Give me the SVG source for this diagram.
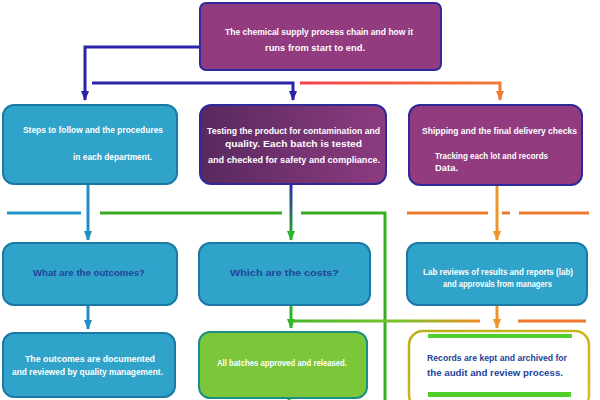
<svg xmlns="http://www.w3.org/2000/svg" width="600" height="400" viewBox="0 0 600 400">
  <style>
    .lbl { font-family: "Liberation Sans", Arial, sans-serif; font-size: 9px; font-weight: bold; fill: #ffffff; }
    .dark { fill: #22439a; }
    .teal { fill: #2fa3c9; stroke: #1b7aa3; stroke-width: 2; }
    .plum { fill: #923b7f; stroke: #2e2a9a; stroke-width: 2; }
    .wire { fill: none; stroke-width: 3; }
  </style>
  <defs>
    <linearGradient id="plumShade" x1="0" y1="0" x2="1" y2="0">
      <stop offset="0" stop-color="#58295f"/>
      <stop offset="1" stop-color="#8d3b80"/>
    </linearGradient>
    <linearGradient id="redOrange" x1="300" y1="0" x2="500" y2="0" gradientUnits="userSpaceOnUse">
      <stop offset="0" stop-color="#f2424e"/>
      <stop offset="1" stop-color="#f07d35"/>
    </linearGradient>
    <linearGradient id="blueGreen" x1="0" y1="185" x2="0" y2="240" gradientUnits="userSpaceOnUse">
      <stop offset="0" stop-color="#2a2aa8"/>
      <stop offset="1" stop-color="#2cb52a"/>
    </linearGradient>
    <linearGradient id="greenOrange" x1="291" y1="0" x2="480" y2="0" gradientUnits="userSpaceOnUse">
      <stop offset="0" stop-color="#47b82a"/>
      <stop offset="0.6" stop-color="#7cc22a"/>
      <stop offset="1" stop-color="#f08a2a"/>
    </linearGradient>
    <linearGradient id="goldRim" x1="0" y1="0" x2="1" y2="1">
      <stop offset="0" stop-color="#b8b018"/>
      <stop offset="1" stop-color="#e0b820"/>
    </linearGradient>
    <marker id="tipBlue" viewBox="0 0 10 8" refX="9" refY="4" markerWidth="10" markerHeight="8" markerUnits="userSpaceOnUse" orient="auto">
      <path d="M0,0 L10,4 L0,8 z" fill="#2a23a8"/>
    </marker>
    <marker id="tipOrange" viewBox="0 0 10 8" refX="9" refY="4" markerWidth="10" markerHeight="8" markerUnits="userSpaceOnUse" orient="auto">
      <path d="M0,0 L10,4 L0,8 z" fill="#f07a35"/>
    </marker>
    <marker id="tipTeal" viewBox="0 0 10 8" refX="9" refY="4" markerWidth="10" markerHeight="8" markerUnits="userSpaceOnUse" orient="auto">
      <path d="M0,0 L10,4 L0,8 z" fill="#1e8fc4"/>
    </marker>
    <marker id="tipGreen" viewBox="0 0 10 8" refX="9" refY="4" markerWidth="10" markerHeight="8" markerUnits="userSpaceOnUse" orient="auto">
      <path d="M0,0 L10,4 L0,8 z" fill="#2cb52a"/>
    </marker>
    <marker id="tipAmber" viewBox="0 0 10 8" refX="9" refY="4" markerWidth="10" markerHeight="8" markerUnits="userSpaceOnUse" orient="auto">
      <path d="M0,0 L10,4 L0,8 z" fill="#f0952a"/>
    </marker>
  </defs>

  <rect width="600" height="400" fill="#ffffff"/>

  <!-- connectors -->
  <g id="connectors">
    <path class="wire" d="M200,47 H85 V100" stroke="#2a23a8" marker-end="url(#tipBlue)"/>
    <path class="wire" d="M92,83 H293 V100" stroke="#2a23a8" marker-end="url(#tipBlue)"/>
    <path class="wire" d="M300,83 H500 V100" stroke="url(#redOrange)" marker-end="url(#tipOrange)"/>

    <path class="wire" d="M88,185 V240" stroke="#1e8fc4" marker-end="url(#tipTeal)"/>
    <path class="wire" d="M291,185 V240" stroke="url(#blueGreen)" marker-end="url(#tipGreen)"/>
    <path class="wire" d="M497,185 V240" stroke="#f0952a" marker-end="url(#tipAmber)"/>

    <path class="wire" d="M7,213 H81" stroke="#1e9ac8"/>
    <path class="wire" d="M100,213 H282" stroke="#3aab25"/>
    <path class="wire" d="M301,213 H385 V400" stroke="#3aab25"/>
    <path class="wire" d="M407,213 H488 M502,213 H510 M519,213 H589" stroke="#f0782e"/>

    <path class="wire" d="M88,305 V329" stroke="#1e8fc4" marker-end="url(#tipTeal)"/>
    <path class="wire" d="M291,305 V328" stroke="#2cb52a" marker-end="url(#tipGreen)"/>
    <path class="wire" d="M291,321 H480" stroke="url(#greenOrange)"/>
    <path class="wire" d="M518,321 H586" stroke="#f0782e"/>
    <path class="wire" d="M497,305 V328" stroke="#f0952a" marker-end="url(#tipAmber)"/>
    <path class="wire" d="M289,397 V400" stroke="#3aab25"/>
  </g>

  <!-- top node -->
  <g id="node-top">
    <rect x="200" y="3" width="241" height="67" rx="6" class="plum"/>
    <text class="lbl" x="225" y="35" textLength="188" lengthAdjust="spacingAndGlyphs">The chemical supply process chain and how it</text>
    <text class="lbl" x="265" y="51" textLength="100" lengthAdjust="spacingAndGlyphs">runs from start to end.</text>
  </g>

  <!-- second row -->
  <g id="node-steps">
    <rect x="3" y="105" width="174" height="79" rx="11" class="teal"/>
    <text class="lbl" x="23" y="133" textLength="140" lengthAdjust="spacingAndGlyphs">Steps to follow and the procedures</text>
    <text class="lbl" x="73" y="160" textLength="79" lengthAdjust="spacingAndGlyphs">in each department.</text>
  </g>
  <g id="node-testing">
    <rect x="200" y="105" width="186" height="79" rx="11" fill="url(#plumShade)" stroke="#2e2a9a" stroke-width="2"/>
    <text class="lbl" x="207" y="134" textLength="173" lengthAdjust="spacingAndGlyphs">Testing the product for contamination and</text>
    <text class="lbl" x="225" y="147" textLength="137" lengthAdjust="spacingAndGlyphs">quality. Each batch is tested</text>
    <text class="lbl" x="208" y="163" textLength="172" lengthAdjust="spacingAndGlyphs">and checked for safety and compliance.</text>
  </g>
  <g id="node-shipping">
    <rect x="409" y="105" width="173" height="80" rx="11" class="plum"/>
    <text class="lbl" x="422" y="134" textLength="155" lengthAdjust="spacingAndGlyphs">Shipping and the final delivery checks</text>
    <text class="lbl" x="435" y="159" textLength="113" lengthAdjust="spacingAndGlyphs">Tracking each lot and records</text>
    <text class="lbl" x="435" y="171" textLength="23" lengthAdjust="spacingAndGlyphs">Data.</text>
  </g>

  <!-- third row -->
  <g id="node-outcomes">
    <rect x="3" y="243" width="174" height="62" rx="11" class="teal"/>
    <text class="lbl dark" x="33" y="276" textLength="112" lengthAdjust="spacingAndGlyphs">What are the outcomes?</text>
  </g>
  <g id="node-costs">
    <rect x="199" y="243" width="171" height="62" rx="11" class="teal"/>
    <text class="lbl dark" x="230" y="276" textLength="109" lengthAdjust="spacingAndGlyphs">Which are the costs?</text>
  </g>
  <g id="node-review">
    <rect x="407" y="243" width="180" height="62" rx="11" class="teal"/>
    <text class="lbl" x="423" y="275" textLength="150" lengthAdjust="spacingAndGlyphs">Lab reviews of results and reports (lab)</text>
    <text class="lbl" x="443" y="287" textLength="109" lengthAdjust="spacingAndGlyphs">and approvals from managers</text>
  </g>

  <!-- fourth row -->
  <g id="node-documented">
    <rect x="3" y="333" width="172" height="64" rx="11" class="teal"/>
    <text class="lbl" x="25" y="362" textLength="130" lengthAdjust="spacingAndGlyphs">The outcomes are documented</text>
    <text class="lbl" x="12" y="375" textLength="151" lengthAdjust="spacingAndGlyphs">and reviewed by quality management.</text>
  </g>
  <g id="node-released">
    <rect x="199" y="332" width="168" height="66" rx="11" fill="#7cc63a" stroke="#1a8f84" stroke-width="2"/>
    <text class="lbl" x="217" y="366" textLength="130" lengthAdjust="spacingAndGlyphs">All batches approved and released.</text>
  </g>
  <g id="node-records">
    <rect x="409" y="331" width="180" height="78" rx="14" fill="#ffffff" stroke="url(#goldRim)" stroke-width="2.5"/>
    <rect x="428" y="334" width="144" height="4" fill="#4fcf2a"/>
    <rect x="428" y="392" width="143" height="5" fill="#4fcf2a"/>
    <text class="lbl dark" x="427" y="361" textLength="140" lengthAdjust="spacingAndGlyphs">Records are kept and archived for</text>
    <text class="lbl dark" x="427" y="376" textLength="136" lengthAdjust="spacingAndGlyphs">the audit and review process.</text>
  </g>
</svg>
